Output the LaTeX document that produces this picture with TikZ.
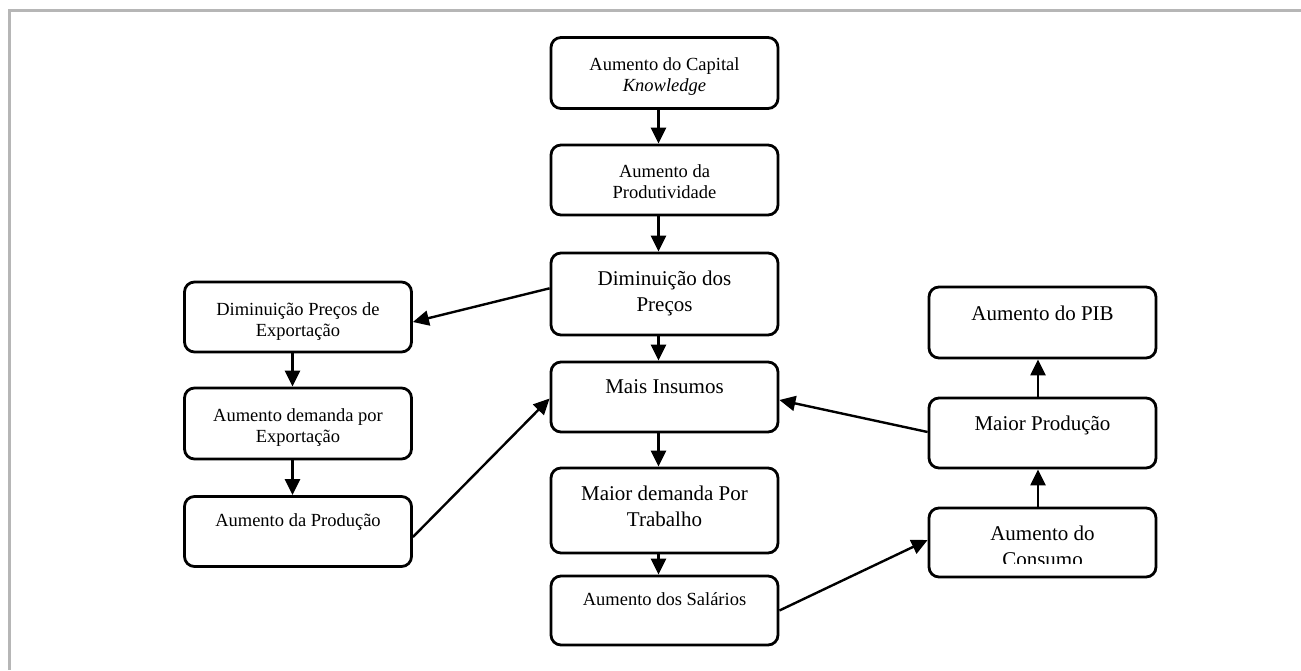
\documentclass[tikz,border=0pt]{standalone}
\usepackage{fontspec}
\setmainfont{Liberation Serif}
\usetikzlibrary{arrows.meta,calc}
\newcommand{\smallf}{\fontsize{18.5}{21}\selectfont}
\newcommand{\bigf}{\fontsize{21}{26}\selectfont}
\newcommand{\twoline}[2]{\begin{tabular}[t]{@{}c@{}}#1\\#2\end{tabular}}
\definecolor{framegray}{RGB}{182,182,182}
\begin{document}
\begin{tikzpicture}[x=1pt,y=-1pt,
  box/.style={draw, line width=2.8pt, rounded corners=10pt, minimum width=227pt, inner sep=0pt},
  stxt/.style={anchor=base, inner sep=0pt, font=\smallf},
  btxt/.style={anchor=base, inner sep=0pt, font=\bigf},
  arr/.style={line width=2.4pt, -{Triangle[length=16pt,width=15pt]}}]
\useasboundingbox (0,0) rectangle (1301,670);
\draw[framegray, line width=3pt] (9.5,670) -- (9.5,10.5) -- (1301,10.5);

% boxes
\node[box, minimum height=71pt] (b1) at (664.5,73) {};
\node[box, minimum height=70pt] (b2) at (664.5,180) {};
\node[box, minimum height=82pt] (b3) at (664.5,294) {};
\node[box, minimum height=70pt] (b4) at (664.5,397) {};
\node[box, minimum height=85pt] (b5) at (664.5,510.5) {};
\node[box, minimum height=69pt] (b6) at (664.5,610.5) {};
\node[box, minimum height=70pt] (b7) at (298,317) {};
\node[box, minimum height=71pt] (b8) at (298,423.5) {};
\node[box, minimum height=70pt] (b9) at (298,531.5) {};
\node[box, minimum height=71pt] (b10) at (1042.5,322.5) {};
\node[box, minimum height=70pt] (b11) at (1042.5,433) {};
\node[box, minimum height=69pt] (b12) at (1042.5,542.5) {};

% texts
\node[stxt] (t1) at ($(b1.north)+(0,34)$) {\twoline{Aumento do Capital}{\itshape Knowledge}};
\node[stxt] (t2) at ($(b2.north)+(0,34)$) {\twoline{Aumento da}{Produtividade}};
\node[btxt] (t3) at ($(b3.north)+(0,34)$) {\twoline{Diminuição dos}{Preços}};
\node[btxt] (t4) at ($(b4.north)+(0,33)$) {Mais Insumos};
\node[btxt] (t5) at ($(b5.north)+(0,34)$) {\twoline{Maior demanda Por}{Trabalho}};
\node[stxt] (t6) at ($(b6.north)+(0,31)$) {Aumento dos Salários};
\node[stxt] (t7) at ($(b7.north)+(0,35)$) {\twoline{Diminuição Preços de}{Exportação}};
\node[stxt] (t8) at ($(b8.north)+(0,35)$) {\twoline{Aumento demanda por}{Exportação}};
\node[stxt] (t9) at ($(b9.north)+(0,31)$) {Aumento da Produção};
\node[btxt] (t10) at ($(b10.north)+(0,35)$) {Aumento do PIB};
\node[btxt] (t11) at ($(b11.north)+(0,34)$) {Maior Produção};
\begin{scope}
\clip (900,500) rectangle (1180,563);
\node[btxt] (t12) at ($(b12.north)+(0,34)$) {\twoline{Aumento do}{Consumo}};
\end{scope}

% arrows
\draw[arr] ([xshift=-6pt]b1.south) -- ([xshift=-6pt]b2.north);
\draw[arr] ([xshift=-6pt]b2.south) -- ([xshift=-6pt]b3.north);
\draw[arr] ([xshift=-6pt]b3.south) -- ([xshift=-6pt]b4.north);
\draw[arr] ([xshift=-6pt]b4.south) -- ([xshift=-6pt]b5.north);
\draw[arr] ([xshift=-6pt]b5.south) -- ([xshift=-6pt]b6.north);
\draw[arr] ([xshift=-5.5pt]b7.south) -- ([xshift=-5.5pt]b8.north);
\draw[arr] ([xshift=-5.5pt]b8.south) -- ([xshift=-5.5pt]b9.north);
\draw[arr] ([yshift=5.7pt]b3.west) -- ([yshift=-5pt]b7.east);
\draw[arr] ([yshift=-5.5pt]b9.east) -- ([yshift=-1.5pt]b4.west);
\draw[arr] ([yshift=1pt]b11.west) -- ([yshift=-3pt]b4.east);
\draw[arr] (b6.east) -- ([yshift=2.5pt]b12.west);
\draw[arr] ([xshift=-4.5pt]b12.north) -- ([xshift=-4.5pt]b11.south);
\draw[arr] ([xshift=-4.5pt]b11.north) -- ([xshift=-4.5pt]b10.south);
\end{tikzpicture}
\end{document}
